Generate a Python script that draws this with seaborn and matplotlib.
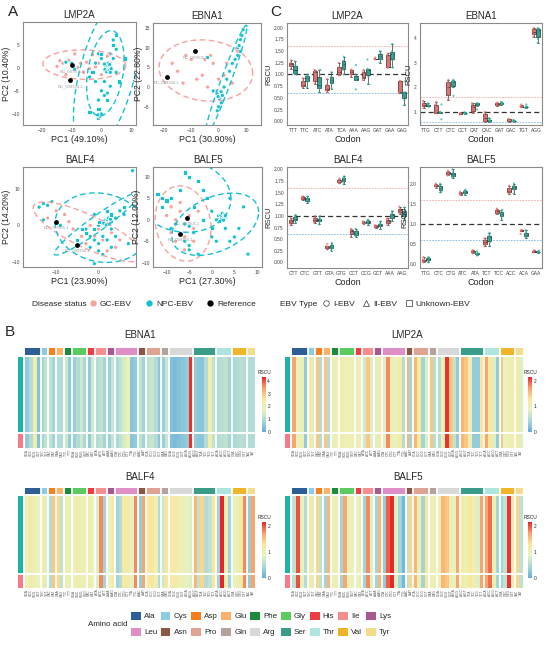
import numpy as np
import pandas as pd
import seaborn as sns
import matplotlib.pyplot as plt
from matplotlib.colors import LinearSegmentedColormap, ListedColormap
from matplotlib.lines import Line2D
from matplotlib.patches import Patch

sns.set_style("white")
plt.rcParams['font.family'] = ['Liberation Sans', 'DejaVu Sans']

# ---------------- panel A: PCA points ----------------
GENES_A = ['LMP2A', 'EBNA1', 'BALF4', 'BALF5']
PC_LABELS = [('PC1 (49.10%)', 'PC2 (10.40%)'), ('PC1 (30.90%)', 'PC2 (22.80%)'),
             ('PC1 (23.90%)', 'PC2 (14.20%)'), ('PC1 (27.30%)', 'PC2 (12.00%)')]

LMP2A_GC = [(-15, 0.3), (-14, 1.5), (-13, 1.0), (-12, -1.5), (-11, 1.6), (-9, 3.0), (-8, 0.0),
            (-7, 1.0), (-6, -1.0), (-4, -0.2), (-3, 2.8), (-1, 1.0), (0, -1.5), (1, -0.5),
            (2, 2.5), (3, 1.0), (-5, 1.2), (-2, 0.2)]
LMP2A_NPC = [(2.0, 0.0), (1.5, 0.4), (2.5, -0.3), (2.0, 0.6), (3.0, 0.1), (1.2, -0.4), (2.3, 1.0),
             (2.8, 0.7), (1.8, -0.9), (2.6, -0.6), (1.0, 0.8), (3.3, -0.2), (-1.0, -11.0),
             (-0.5, -10.5), (0.0, -10.0), (-1.2, -10.2), (-1, -7), (0, -5), (2, -5.5), (3, -4),
             (1, -3), (-2, -3), (4, 2), (5, 4), (3, -1), (0, 2), (-1, 3), (4, 6), (5, -1),
             (1, -6), (3, 3), (-2, 1), (-4, -2), (-9, -0.3), (-10, 1), (-12, 1.2)]
LMP2A_NPC_UNK = [(-4, -9.5), (-1, -9), (6, -3), (4, 5), (0, 3), (8, 2), (2, -7), (-3, -1), (5, 7)]

EBNA1_GC = [(-17, 6), (-12, 8), (-10, 7), (-5, 7), (-3, 8), (-2, 6), (-6, 3), (-8, 2), (0, 2),
            (2, 3), (-4, 0), (5, 1), (7, 9), (-15, 4), (-1, -1), (3, 6), (-13, 1)]
EBNA1_NPC = [(0.5, -2.0), (0.0, -2.2), (1.0, -2.5), (0.3, -1.6), (0.8, -1.8), (-0.5, -1.8),
             (1.2, -1.5), (0.6, -2.6), (0.2, -2.9), (0.9, -1.2), (-0.2, -2.4), (1.4, -2.1),
             (-0.5, -6), (0, -5), (1, -4), (2, 0), (3, 2), (4, 4), (5, 6), (-2, -1),
             (7, 10), (8, 12), (8.5, 13), (9, 14.5), (7.5, 10.5), (6, 7), (8, 9), (7, 8), (-4, 7.5)]
EBNA1_NPC_UNK = []

BALF4_GC = [(-12, 2), (-10, 4), (-8, 3), (-6, -1), (-4, -3), (-2, 0), (0, -1), (1, -4), (3, -2),
            (4, -6), (-3, -5), (2, -7), (-7, 1), (-1, -3), (5, -4)]
BALF4_NPC = [(2.0, 1.0), (1.5, 1.4), (2.5, 0.7), (2.0, 1.6), (3.0, 1.1), (1.2, 0.6), (2.3, 2.0),
             (2.8, 1.7), (1.8, 0.1), (2.6, 0.4), (-14, 5), (-13, 6), (-12, 5.5), (-11, 6.5),
             (-13, 1.5), (-9, 0), (-3, -1), (-2, -3), (-1, -4), (0, -5), (1, -3), (3, -1), (4, 2),
             (5, 4), (-1, 3), (0, -7), (1, -8), (-1, -10.5), (3, -6), (4, -3), (6, 3), (7, -5),
             (8, 15), (0, 0), (-2, -6), (2, -4)]
BALF4_NPC_UNK = [(-5, -4), (-3, -2), (0, 1), (3, 3), (6, 5), (-1, -1), (2, 4), (-4, -1)]

BALF5_GC = [(-9, -3), (-8, 0), (-7, 2), (-6, -4), (-5, 1), (-4, -2), (-3, 2), (-10, 1), (-6, -7),
            (-8, -5), (-2, 0), (-7, 4), (-9, 3), (-4, -5)]
BALF5_NPC = [(2.0, 0.5), (1.5, 0.9), (2.5, 0.2), (2.0, 1.1), (3.0, 0.6), (1.2, 0.1), (2.3, 1.5),
             (2.8, 1.2), (1.8, -0.4), (2.6, -0.1), (0, -4), (1, -5), (3, -2), (5, -4), (6, -2),
             (7, 3), (8, -8), (4, 5), (0, 2), (1, 0), (3, 1), (-6, -1), (-5, -1.5), (-4, -3),
             (-6, -5), (-5, -6), (-5, -7), (-3, -8), (-8, -1), (-9, -2), (4, -5)]
BALF5_NPC_UNK = [(-12, 6), (-11, 5), (-10, 4.5), (-9, 5), (-11, 3), (-6, 11), (-5, 10), (-3, 9),
                 (-2, 7), (-1, 5), (-4, 3), (-7, 7), (0, -2), (-2, 0)]

REF_POINTS = [[(-10, 0.5), (-10.5, -2.7)], [(-8.5, 9), (-19, 2.5)],
              [(-10, 1), (-5, -5.5)], [(-5.5, 0.5), (-7, -3.2)]]
REF_NAMES = ['NC_007605.1', 'NC_009334.1']

A_XLIM = [(-26.5, 11.7), (-24, 15.5), (-17.8, 8.8), (-13, 11.1)]
A_YLIM = [(-12.4, 9.9), (-9.6, 16.2), (-11.4, 16), (-11, 12.3)]
A_XTICKS = [[-20, -10, 0, 10], [-20, -10, 0, 10], [-10, 0], [-10, -5, 0, 5, 10]]
A_YTICKS = [[-10, -5, 0, 5], [-5, 0, 5, 10, 15], [-10, 0, 10], [-10, -5, 0, 5, 10]]

# ---------------- panel C: RSCU per codon ----------------
C_CODONS = {
    'LMP2A': ['TTT', 'TTC', 'ATC', 'ATA', 'TCA', 'AAA', 'AAG', 'GAT', 'GAA', 'GAG'],
    'EBNA1': ['TTG', 'CTT', 'CTC', 'CCT', 'CAT', 'CAC', 'GAT', 'GAC', 'TGT', 'AGG'],
    'BALF4': ['CTT', 'CTC', 'GTT', 'GTA', 'GTG', 'CCT', 'CCG', 'GCT', 'AAA', 'AAG'],
    'BALF5': ['TTG', 'CTC', 'CTG', 'ATC', 'ATA', 'TCT', 'TCC', 'ACC', 'ACA', 'GAA'],
}
LMP2A_C_GC = [[1.12, 1.18, 1.22, 1.25, 1.30], [0.72, 0.75, 0.78, 0.85, 0.92],
              [0.80, 0.86, 1.05, 1.07, 1.10], [0.62, 0.66, 0.70, 0.78, 0.90],
              [0.98, 1.00, 1.05, 1.15, 1.25], [0.95, 1.00, 1.05, 1.10, 1.10],
              [0.88, 0.92, 0.95, 1.05, 1.10], [1.33, 1.33, 1.33, 1.34, 1.36],
              [1.15, 1.15, 1.15, 1.42, 1.45], [0.60, 0.62, 0.85, 0.85, 0.86]]
LMP2A_C_NPC = [[1.00, 1.03, 1.05, 1.15, 1.20, 1.28], [0.72, 0.85, 0.92, 0.95, 0.98, 1.00],
               [0.62, 0.70, 0.75, 0.80, 1.00, 1.10], [0.70, 0.80, 0.88, 0.90, 0.95, 1.05],
               [1.00, 1.10, 1.20, 1.25, 1.30, 1.38], [0.68, 0.88, 0.90, 0.90, 1.00, 1.20],
               [0.80, 0.95, 1.10, 1.10, 1.12, 1.32], [1.25, 1.32, 1.38, 1.40, 1.45, 1.50],
               [1.15, 1.30, 1.42, 1.45, 1.50, 1.65], [0.35, 0.45, 0.60, 0.60, 0.62, 0.85]]
EBNA1_C_GC = [[1.15, 1.25, 1.28, 1.35, 1.45], [0.95, 0.97, 0.98, 1.30, 1.40],
              [1.50, 1.70, 2.00, 2.20, 2.30], [0.90, 0.92, 0.93, 0.94, 0.95],
              [0.95, 1.05, 1.20, 1.30, 1.35], [0.60, 0.65, 0.75, 0.90, 1.00],
              [1.25, 1.30, 1.33, 1.35, 1.38], [0.60, 0.63, 0.65, 0.70, 0.72],
              [1.20, 1.20, 1.20, 1.25, 1.30], [4.05, 4.15, 4.25, 4.35, 4.40]]
EBNA1_C_NPC = [[1.20, 1.25, 1.28, 1.28, 1.30, 1.35], [0.70, 0.95, 0.97, 0.97, 1.00, 1.30],
               [1.65, 2.00, 2.20, 2.20, 2.25, 2.30], [0.92, 0.94, 0.95, 0.95, 0.96, 0.98],
               [1.10, 1.25, 1.32, 1.33, 1.35, 1.35], [0.60, 0.63, 0.65, 0.65, 0.70, 0.75],
               [1.30, 1.33, 1.35, 1.36, 1.38, 1.40], [0.60, 0.62, 0.63, 0.64, 0.65, 0.68],
               [1.15, 1.18, 1.20, 1.20, 1.22, 1.30], [3.80, 3.95, 4.30, 4.35, 4.35, 4.40]]
BALF4_C_GC = [[0.80, 0.85, 0.88, 0.92, 0.95], [1.35, 1.37, 1.39, 1.40, 1.42],
              [0.85, 0.88, 0.92, 0.95, 1.00], [0.28, 0.32, 0.33, 0.35, 0.40],
              [1.70, 1.72, 1.76, 1.78, 1.80], [0.55, 0.62, 0.68, 0.70, 0.72],
              [0.82, 0.84, 0.86, 0.87, 0.88], [0.75, 0.76, 0.78, 0.79, 0.80],
              [0.80, 0.85, 0.88, 0.92, 0.95], [1.05, 1.08, 1.12, 1.15, 1.20]]
BALF4_C_NPC = [[0.85, 0.90, 0.93, 0.95, 0.98, 1.02], [1.28, 1.32, 1.35, 1.36, 1.38, 1.42],
               [0.82, 0.88, 0.90, 0.92, 0.95, 1.00], [0.25, 0.30, 0.32, 0.33, 0.38, 0.42],
               [1.68, 1.73, 1.78, 1.80, 1.82, 1.85], [0.55, 0.58, 0.62, 0.64, 0.68, 0.72],
               [0.80, 0.84, 0.87, 0.88, 0.90, 0.92], [0.72, 0.78, 0.80, 0.82, 0.84, 0.88],
               [0.88, 0.95, 1.00, 1.02, 1.06, 1.10], [0.92, 1.00, 1.00, 1.08, 1.12, 1.18]]
BALF5_C_GC = [[0.05, 0.08, 0.10, 0.12, 0.18], [1.90, 1.93, 1.95, 1.97, 2.00],
              [2.20, 2.23, 2.25, 2.28, 2.32], [1.72, 1.74, 1.75, 1.77, 1.80],
              [0.27, 0.30, 0.32, 0.33, 0.35], [0.45, 0.50, 0.55, 0.60, 0.65],
              [1.25, 1.28, 1.32, 1.35, 1.38], [1.75, 1.80, 1.82, 1.88, 1.95],
              [0.75, 0.82, 0.84, 0.85, 0.85], [0.30, 0.31, 0.32, 0.33, 0.35]]
BALF5_C_NPC = [[0.05, 0.10, 0.13, 0.15, 0.16, 0.18], [1.78, 1.82, 1.87, 1.90, 1.95, 2.00],
               [2.15, 2.18, 2.20, 2.25, 2.28, 2.35], [1.72, 1.75, 1.78, 1.80, 1.82, 1.85],
               [0.22, 0.25, 0.26, 0.26, 0.28, 0.32], [0.45, 0.55, 0.65, 0.68, 0.72, 0.78],
               [1.10, 1.18, 1.22, 1.25, 1.30, 1.35], [1.75, 1.85, 1.90, 1.93, 1.95, 2.00],
               [0.65, 0.70, 0.72, 0.75, 0.80, 0.85], [0.28, 0.30, 0.30, 0.31, 0.32, 0.34]]
C_YLIM = [(-0.08, 2.1), (0.47, 4.6), (-0.12, 2.05), (-0.09, 2.41)]
C_YTICKS = [np.arange(0, 2.01, 0.25), [1, 2, 3, 4], np.arange(0, 2.01, 0.25), [0, 0.5, 1, 1.5, 2]]

# ---------------- panel B: heatmaps ----------------
AMINO = ['Ala', 'Cys', 'Asp', 'Glu', 'Phe', 'Gly', 'His', 'Ile', 'Lys',
         'Leu', 'Asn', 'Pro', 'Gln', 'Arg', 'Ser', 'Thr', 'Val', 'Tyr']
AMINO_COLORS = ['#2d5f96', '#8ccbe8', '#f77f1e', '#fbb169', '#1a8a3b', '#5bcb5f', '#ef3b42',
                '#f98e8f', '#a9578f', '#df8fc6', '#8b5743', '#dea393', '#b6a29c', '#d8d8d8',
                '#3a9d8a', '#aee6de', '#f0b429', '#f5dc8c']
AMINO_CODONS = [['GCA', 'GCC', 'GCG', 'GCT'], ['TGC', 'TGT'], ['GAC', 'GAT'], ['GAA', 'GAG'],
                ['TTC', 'TTT'], ['GGA', 'GGC', 'GGG', 'GGT'], ['CAC', 'CAT'], ['ATA', 'ATC', 'ATT'],
                ['AAA', 'AAG'], ['CTA', 'CTC', 'CTG', 'CTT', 'TTA', 'TTG'], ['AAC', 'AAT'],
                ['CCA', 'CCC', 'CCG', 'CCT'], ['CAA', 'CAG'], ['CGA', 'CGC', 'CGG', 'CGT', 'AGA', 'AGG'],
                ['AGC', 'AGT', 'TCA', 'TCC', 'TCG', 'TCT'], ['ACA', 'ACC', 'ACG', 'ACT'],
                ['GTA', 'GTC', 'GTG', 'GTT'], ['TAC', 'TAT']]
HM_EBNA1 = [[0.6, 1.0, 2.2, 0.4], [0.8, 1.2], [1.2, 0.8], [1.0, 1.0], [1.4, 0.6], [0.7, 1.0, 1.4, 0.9],
            [0.6, 1.4], [1.0, 1.2, 0.8], [0.7, 1.3], [0.9, 1.2, 1.5, 2.0, 0.5, 0.6], [1.2, 0.8],
            [1.2, 1.3, 1.0, 0.5], [0.7, 1.3], [0.4, 0.3, 0.4, 0.5, 0.6, 4.2],
            [0.6, 0.5, 0.5, 1.0, 2.2, 1.2], [1.0, 1.1, 1.2, 0.8], [0.9, 1.0, 1.1, 1.0], [1.0, 1.0]]
HM_LMP2A = [[1.7, 0.9, 1.0, 0.3], [1.2, 0.8], [1.5, 0.5], [1.5, 0.5], [1.0, 1.0], [1.1, 1.0, 1.0, 1.0],
            [1.0, 1.0], [0.7, 1.5, 0.8], [0.8, 1.2], [0.8, 1.8, 1.0, 0.9, 1.2, 0.5], [1.6, 0.4],
            [1.6, 1.2, 0.4, 0.8], [1.5, 0.5], [0.5, 1.0, 2.1, 1.5, 0.6, 0.3],
            [1.6, 1.5, 1.0, 0.3, 0.3, 1.3], [1.7, 1.2, 0.8, 0.3], [1.5, 0.9, 1.0, 1.1], [1.2, 0.8]]
HM_BALF4 = [[1.0, 1.1, 1.0, 0.9], [1.2, 0.8], [0.5, 1.5], [1.4, 0.6], [1.0, 1.0], [0.9, 1.1, 1.0, 1.0],
            [1.1, 0.9], [0.8, 1.8, 0.4], [0.9, 1.1], [0.4, 0.5, 1.2, 1.1, 0.9, 1.8], [0.3, 1.7],
            [1.2, 1.3, 1.0, 0.5], [0.7, 1.3], [1.1, 1.2, 1.0, 1.0, 0.9, 0.8],
            [1.6, 0.6, 1.4, 0.5, 0.6, 1.3], [0.4, 2.2, 1.0, 0.4], [0.9, 1.0, 1.1, 1.8], [0.3, 1.7]]
HM_BALF5 = [[0.6, 2.0, 0.9, 0.5], [1.2, 0.8], [1.4, 0.6], [0.4, 1.6], [1.0, 1.0], [0.4, 1.7, 1.0, 0.9],
            [0.9, 1.1], [0.4, 1.8, 0.8], [0.4, 1.6], [0.3, 1.95, 2.2, 0.8, 0.4, 0.1], [0.6, 1.4],
            [1.6, 1.0, 0.4, 1.3], [1.0, 1.0], [1.0, 1.6, 1.5, 1.0, 0.9, 1.7],
            [1.2, 1.0, 1.3, 1.0, 0.8, 1.7], [1.7, 1.9, 1.0, 0.4], [0.4, 0.6, 2.1, 1.0], [1.4, 0.6]]

PINK, CYAN = '#f6a29e', '#14c2d0'
C_RED, C_TEAL = '#f0635f', '#1fb5a0'
RSCU_CMAP = LinearSegmentedColormap.from_list(
    'rscu', ['#67addb', '#a8d8d8', '#e6f3c2', '#fbe79a', '#f9a36a', '#e8262a'])

fig = plt.figure(figsize=(5.5, 6.46), dpi=100)


def box(x0, y0, x1, y1):
    return fig.add_axes([x0 / 550, 1 - y1 / 646, (x1 - x0) / 550, (y1 - y0) / 646])


def trob_ellipse(pts, level=0.95, nu=5):
    # robust t-ellipse like ggplot2::stat_ellipse
    X = np.asarray(pts, float)
    n = len(X)
    mu, S = X.mean(0), np.cov(X.T)
    for _ in range(100):
        d = X - mu
        m = np.einsum('ij,jk,ik->i', d, np.linalg.inv(S), d)
        w = (nu + 2) / (nu + m)
        mu = (w[:, None] * X).sum(0) / w.sum()
        d = X - mu
        S = np.einsum('i,ij,ik->jk', w, d, d) / n
    q = (n - 1) / 2 * ((1 - level) ** (-2 / (n - 1)) - 1)
    r = np.sqrt(2 * q)
    t = np.linspace(0, 2 * np.pi, 120)
    unit = np.column_stack([np.cos(t), np.sin(t)])
    return mu + r * unit @ np.linalg.cholesky(S).T


def style_frame(ax):
    for s in ax.spines.values():
        s.set_color('#8a8a8a')
        s.set_linewidth(0.8)
    ax.tick_params(labelsize=3.5, length=1.5, width=0.4, pad=0.8, colors='#444444')


# ---- A ----
a_rects = [(23, 22, 136, 125), (153, 23, 261, 125), (23, 167, 136, 267), (153, 167, 262, 267)]
a_data = [(LMP2A_GC, LMP2A_NPC, LMP2A_NPC_UNK), (EBNA1_GC, EBNA1_NPC, EBNA1_NPC_UNK),
          (BALF4_GC, BALF4_NPC, BALF4_NPC_UNK), (BALF5_GC, BALF5_NPC, BALF5_NPC_UNK)]
for i, gene in enumerate(GENES_A):
    ax = box(*a_rects[i])
    gc, npc, unk = a_data[i]
    rows = ([('GC', 'I', x, y) for x, y in gc] + [('NPC', 'I', x, y) for x, y in npc]
            + [('NPC', 'U', x, y) for x, y in unk])
    df = pd.DataFrame(rows, columns=['status', 'type', 'pc1', 'pc2'])
    sns.scatterplot(data=df, x='pc1', y='pc2', hue='status', style='type',
                    palette={'GC': PINK, 'NPC': CYAN}, markers={'I': 'o', 'U': 's'},
                    facecolor='none', s=9, linewidth=0.6, legend=False, ax=ax)
    for (st, ty), grp in df.groupby(['status', 'type']):
        if len(grp) >= 4:
            e = trob_ellipse(grp[['pc1', 'pc2']].values)
            ax.plot(e[:, 0], e[:, 1], ls=(0, (4, 2.5)), lw=1.0,
                    color=PINK if st == 'GC' else CYAN)
    for (rx, ry), name in zip(REF_POINTS[i], REF_NAMES):
        ax.scatter(rx, ry, s=6, color='black', zorder=5)
        ax.text(rx, ry - 0.9, name, fontsize=3, color='#9a9a9a', ha='center', va='top')
    ax.set_xlim(A_XLIM[i])
    ax.set_ylim(A_YLIM[i])
    ax.set_xticks(A_XTICKS[i])
    ax.set_yticks(A_YTICKS[i])
    ax.set_title(gene, fontsize=7, pad=3)
    ax.set_xlabel(PC_LABELS[i][0], fontsize=6.5, labelpad=1)
    ax.set_ylabel(PC_LABELS[i][1], fontsize=6.2, labelpad=0.5)
    style_frame(ax)

# ---- C ----
c_rects = [(287, 23, 408, 125), (420, 23, 542, 125), (287, 167, 408, 268), (420, 167, 542, 268)]
c_gc = [LMP2A_C_GC, EBNA1_C_GC, BALF4_C_GC, BALF5_C_GC]
c_npc = [LMP2A_C_NPC, EBNA1_C_NPC, BALF4_C_NPC, BALF5_C_NPC]
np.random.seed(3)
for i, gene in enumerate(GENES_A):
    ax = box(*c_rects[i])
    codons = C_CODONS[gene]
    rows = []
    for k, cod in enumerate(codons):
        rows += [(cod, 'GC', v) for v in c_gc[i][k]]
        rows += [(cod, 'NPC', v) for v in c_npc[i][k]]
    df = pd.DataFrame(rows, columns=['codon', 'group', 'rscu'])
    ax.axhline(1.6, color='#f4a6a6', ls=(0, (2, 1.5)), lw=0.6)
    ax.axhline(0.6, color='#7ab8e0', ls=(0, (2, 1.5)), lw=0.6)
    ax.axhline(1.0, color='#333333', ls=(0, (4, 2.5)), lw=0.9)
    sns.boxplot(data=df, x='codon', y='rscu', hue='group', order=codons,
                hue_order=['GC', 'NPC'], palette={'GC': C_RED, 'NPC': C_TEAL},
                width=0.7, gap=0.1, showfliers=False, linewidth=0.5, linecolor='#333333',
                legend=False, ax=ax)
    sns.stripplot(data=df, x='codon', y='rscu', hue='group', order=codons,
                  hue_order=['GC', 'NPC'], palette={'GC': C_RED, 'NPC': C_TEAL},
                  dodge=True, jitter=0.12, size=1.6, alpha=0.7, legend=False, ax=ax)
    ax.set_ylim(C_YLIM[i])
    ax.set_yticks(C_YTICKS[i])
    if i in (0, 2):
        ax.set_yticklabels(['%.2f' % v for v in C_YTICKS[i]])
    elif i == 3:
        ax.set_yticklabels(['%.1f' % v for v in C_YTICKS[i]])
    ax.set_title(gene, fontsize=7, pad=3)
    ax.set_xlabel('Codon', fontsize=6.5, labelpad=1)
    ax.set_ylabel('RSCU', fontsize=5.5, labelpad=1)
    style_frame(ax)

# ---- shared legend row ----
ly = 1 - 304 / 646
fig.text(32 / 550, ly, 'Disease status', fontsize=6, va='center')
h1 = [Line2D([], [], marker='o', ls='', color=c, ms=3.5, label=l)
      for c, l in [(PINK, 'GC-EBV'), (CYAN, 'NPC-EBV'), ('black', 'Reference')]]
fig.legend(handles=h1, loc='center left', bbox_to_anchor=(89 / 550, ly), ncol=3,
           frameon=False, fontsize=6, handletextpad=0.3, columnspacing=1.6,
           handlelength=1.0, borderaxespad=0, borderpad=0)
fig.text(280 / 550, ly, 'EBV Type', fontsize=6, va='center')
h2 = [Line2D([], [], marker=m, ls='', mfc='none', mec='#333333', mew=0.5, ms=4, label=l)
      for m, l in [('o', 'I-EBV'), ('^', 'II-EBV'), ('s', 'Unknown-EBV')]]
fig.legend(handles=h2, loc='center left', bbox_to_anchor=(322 / 550, ly), ncol=3,
           frameon=False, fontsize=6, handletextpad=0.3, columnspacing=0.9,
           handlelength=1.0, borderaxespad=0, borderpad=0)

# ---- B ----
col_labels = [c for grp in AMINO_CODONS for c in grp]
col_aa = [k for k, grp in enumerate(AMINO_CODONS) for _ in grp]
bounds = np.cumsum([len(g) for g in AMINO_CODONS])[:-1]
aa_cmap = ListedColormap(AMINO_COLORS)

hm_genes = [('EBNA1', HM_EBNA1, 4.3, [0, 1, 2, 3, 4]), ('LMP2A', HM_LMP2A, 2.15, [0, 1, 2]),
            ('BALF4', HM_BALF4, 2.15, [0, 1, 2]), ('BALF5', HM_BALF5, 2.15, [0, 1, 2])]
hm_x = [(25, 255, 18, 23, 262, 266), (292, 523, 285, 290, 528, 532)]
hm_y = [(335, 348, 355, 357, 432, 434, 448, 377, 432),
        (477, 488, 494, 496, 573, 575, 588, 522, 578)]
for i, (gene, vals, vmax, cticks) in enumerate(hm_genes):
    x0, x1, rx0, rx1, cx0, cx1 = hm_x[i % 2]
    ty, ay0, ay1, ny0, ny1, gy0, gy1, cy0, cy1 = hm_y[i // 2]
    row = np.array([v for grp in vals for v in grp])
    fig.text((x0 + x1) / 2 / 550, 1 - ty / 646, gene, fontsize=7, ha='center', va='center')

    ax_top = box(x0, ay0, x1, ay1)
    sns.heatmap(np.array([col_aa]), cmap=aa_cmap, vmin=-0.5, vmax=17.5, cbar=False,
                xticklabels=False, yticklabels=False, ax=ax_top)
    cax = box(cx0, cy0, cx1, cy1)
    ax_npc = box(x0, ny0, x1, ny1)
    sns.heatmap(np.array([row]), cmap=RSCU_CMAP, vmin=0, vmax=vmax, cbar_ax=cax,
                cbar_kws={'ticks': cticks}, xticklabels=False, yticklabels=False, ax=ax_npc)
    ax_gc = box(x0, gy0, x1, gy1)
    sns.heatmap(np.array([row]), cmap=RSCU_CMAP, vmin=0, vmax=vmax, cbar=False,
                xticklabels=col_labels, yticklabels=False, ax=ax_gc)
    ax_gc.tick_params(axis='x', labelsize=2.3, length=0, pad=1, labelrotation=90,
                      colors='#555555')
    for a in (ax_top, ax_npc, ax_gc):
        for b in bounds:
            a.axvline(b, color='white', lw=1.3)
    cax.tick_params(labelsize=3.5, length=0, pad=1)
    cax.set_title('RSCU', fontsize=3.5, pad=2)
    ra1 = box(rx0, ny0, rx1, ny1)
    ra1.set_facecolor('#1ab5a5')
    ra2 = box(rx0, gy0, rx1, gy1)
    ra2.set_facecolor('#f87a88')
    for a in (ra1, ra2):
        a.set_xticks([])
        a.set_yticks([])
        for s in a.spines.values():
            s.set_visible(False)

# amino acid legend
fig.text(88 / 550, 1 - 624 / 646, 'Amino acid', fontsize=5.8, va='center')
order = [AMINO[i + 9 * r] for i in range(9) for r in range(2)]
handles = [Patch(facecolor=AMINO_COLORS[AMINO.index(a)], edgecolor='none', label=a) for a in order]
fig.legend(handles=handles, loc='center left', bbox_to_anchor=(131 / 550, 1 - 624 / 646),
           ncol=9, frameon=False, fontsize=5.8, handlelength=1.2, handleheight=1.2,
           handletextpad=0.4, columnspacing=0.45, labelspacing=0.9, borderaxespad=0, borderpad=0)

for letter, x, y in [('A', 13, 12), ('C', 276, 12), ('B', 10, 332)]:
    fig.text(x / 550, 1 - y / 646, letter, fontsize=11, va='center', ha='center')

fig.savefig('out.png', dpi=100)
